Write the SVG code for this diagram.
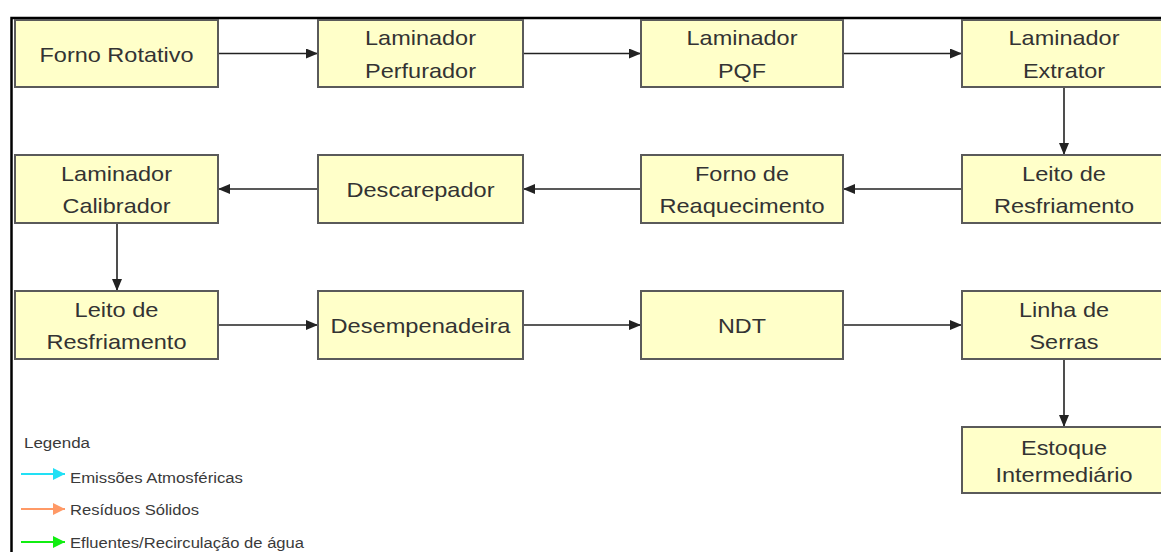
<svg xmlns="http://www.w3.org/2000/svg" width="1161" height="552" viewBox="0 0 1161 552">
<style>
.box{fill:#FFFFC9;stroke:#5a5a5a;stroke-width:2}
.t{font-family:"Liberation Sans",Arial,sans-serif;font-size:21px;fill:#333;text-anchor:middle}
.lg{font-family:"Liberation Sans",Arial,sans-serif;font-size:14px;fill:#3a3a3a}
.c{stroke:#222;stroke-width:1.6;fill:none;marker-end:url(#ah)}
.frame{stroke:#000;stroke-width:2.5;fill:none}
</style>
<defs>
<marker id="ah" viewBox="0 0 12 10" refX="12" refY="5" markerWidth="12" markerHeight="10" markerUnits="userSpaceOnUse" orient="auto">
<path d="M0,0 L12,5 L0,10 Z" fill="#222"/>
</marker>
<marker id="ac" viewBox="0 0 12 12" refX="12" refY="6" markerWidth="12" markerHeight="12" markerUnits="userSpaceOnUse" orient="auto"><path d="M0,0 L12,6 L0,12 Z" fill="#22E0F5"/></marker>
<marker id="ao" viewBox="0 0 12 12" refX="12" refY="6" markerWidth="12" markerHeight="12" markerUnits="userSpaceOnUse" orient="auto"><path d="M0,0 L12,6 L0,12 Z" fill="#FF9966"/></marker>
<marker id="ag" viewBox="0 0 12 12" refX="12" refY="6" markerWidth="12" markerHeight="12" markerUnits="userSpaceOnUse" orient="auto"><path d="M0,0 L12,6 L0,12 Z" fill="#11EE11"/></marker>
</defs>
<rect width="1161" height="552" fill="#fff"/>
<path class="frame" d="M11.5,552 V18 H1161"/>

<g id="connectors">
<line class="c" x1="218" y1="53.5" x2="318" y2="53.5"/>
<line class="c" x1="523" y1="53.5" x2="641" y2="53.5"/>
<line class="c" x1="843" y1="53.5" x2="962" y2="53.5"/>
<line class="c" x1="1064" y1="87" x2="1064" y2="155"/>
<line class="c" x1="962" y1="189" x2="843" y2="189"/>
<line class="c" x1="641" y1="189" x2="523" y2="189"/>
<line class="c" x1="318" y1="189" x2="218" y2="189"/>
<line class="c" x1="117" y1="223" x2="117" y2="291"/>
<line class="c" x1="218" y1="325" x2="318" y2="325"/>
<line class="c" x1="523" y1="325" x2="641" y2="325"/>
<line class="c" x1="843" y1="325" x2="962" y2="325"/>
<line class="c" x1="1064" y1="359" x2="1064" y2="427"/>
</g>

<g id="forno-rotativo"><rect class="box" x="15" y="20" width="203" height="67"/><text class="t" x="116.5" y="62" textLength="154" lengthAdjust="spacingAndGlyphs">Forno Rotativo</text></g>
<g id="laminador-perfurador"><rect class="box" x="318" y="20" width="205" height="67"/><text class="t" x="420.5" y="45" textLength="111" lengthAdjust="spacingAndGlyphs">Laminador</text><text class="t" x="420.5" y="78" textLength="111" lengthAdjust="spacingAndGlyphs">Perfurador</text></g>
<g id="laminador-pqf"><rect class="box" x="641" y="20" width="202" height="67"/><text class="t" x="742" y="45" textLength="111" lengthAdjust="spacingAndGlyphs">Laminador</text><text class="t" x="742" y="78" textLength="48" lengthAdjust="spacingAndGlyphs">PQF</text></g>
<g id="laminador-extrator"><rect class="box" x="962" y="20" width="205" height="67"/><text class="t" x="1064" y="45" textLength="111" lengthAdjust="spacingAndGlyphs">Laminador</text><text class="t" x="1064" y="78" textLength="82" lengthAdjust="spacingAndGlyphs">Extrator</text></g>

<g id="leito-resfriamento-1"><rect class="box" x="962" y="155" width="205" height="68"/><text class="t" x="1064" y="181" textLength="84" lengthAdjust="spacingAndGlyphs">Leito de</text><text class="t" x="1064" y="213" textLength="140" lengthAdjust="spacingAndGlyphs">Resfriamento</text></g>
<g id="forno-reaquecimento"><rect class="box" x="641" y="155" width="202" height="68"/><text class="t" x="742" y="181" textLength="94" lengthAdjust="spacingAndGlyphs">Forno de</text><text class="t" x="742" y="213" textLength="165" lengthAdjust="spacingAndGlyphs">Reaquecimento</text></g>
<g id="descarepador"><rect class="box" x="318" y="155" width="205" height="68"/><text class="t" x="420.5" y="197" textLength="148" lengthAdjust="spacingAndGlyphs">Descarepador</text></g>
<g id="laminador-calibrador"><rect class="box" x="15" y="155" width="203" height="68"/><text class="t" x="116.5" y="181" textLength="111" lengthAdjust="spacingAndGlyphs">Laminador</text><text class="t" x="116.5" y="213" textLength="108" lengthAdjust="spacingAndGlyphs">Calibrador</text></g>

<g id="leito-resfriamento-2"><rect class="box" x="15" y="291" width="203" height="68"/><text class="t" x="116.5" y="317" textLength="84" lengthAdjust="spacingAndGlyphs">Leito de</text><text class="t" x="116.5" y="349" textLength="140" lengthAdjust="spacingAndGlyphs">Resfriamento</text></g>
<g id="desempenadeira"><rect class="box" x="318" y="291" width="205" height="68"/><text class="t" x="420.5" y="333" textLength="180" lengthAdjust="spacingAndGlyphs">Desempenadeira</text></g>
<g id="ndt"><rect class="box" x="641" y="291" width="202" height="68"/><text class="t" x="742" y="333" textLength="48" lengthAdjust="spacingAndGlyphs">NDT</text></g>
<g id="linha-serras"><rect class="box" x="962" y="291" width="205" height="68"/><text class="t" x="1064" y="317" textLength="90" lengthAdjust="spacingAndGlyphs">Linha de</text><text class="t" x="1064" y="349" textLength="69" lengthAdjust="spacingAndGlyphs">Serras</text></g>
<g id="estoque-intermediario"><rect class="box" x="962" y="427" width="205" height="66"/><text class="t" x="1064" y="455" textLength="86" lengthAdjust="spacingAndGlyphs">Estoque</text><text class="t" x="1064" y="482" textLength="137" lengthAdjust="spacingAndGlyphs">Intermediário</text></g>

<g id="legenda">
<text class="lg" x="24" y="448" textLength="66" lengthAdjust="spacingAndGlyphs">Legenda</text>
<line x1="21" y1="474" x2="65" y2="474" stroke="#22E0F5" stroke-width="2" marker-end="url(#ac)"/>
<text class="lg" x="70" y="483" textLength="173" lengthAdjust="spacingAndGlyphs">Emissões Atmosféricas</text>
<line x1="21" y1="509" x2="65" y2="509" stroke="#FF9966" stroke-width="2" marker-end="url(#ao)"/>
<text class="lg" x="70" y="515" textLength="129" lengthAdjust="spacingAndGlyphs">Resíduos Sólidos</text>
<line x1="21" y1="542" x2="65" y2="542" stroke="#11EE11" stroke-width="2" marker-end="url(#ag)"/>
<text class="lg" x="70" y="548" textLength="234" lengthAdjust="spacingAndGlyphs">Efluentes/Recirculação de água</text>
</g>
</svg>
